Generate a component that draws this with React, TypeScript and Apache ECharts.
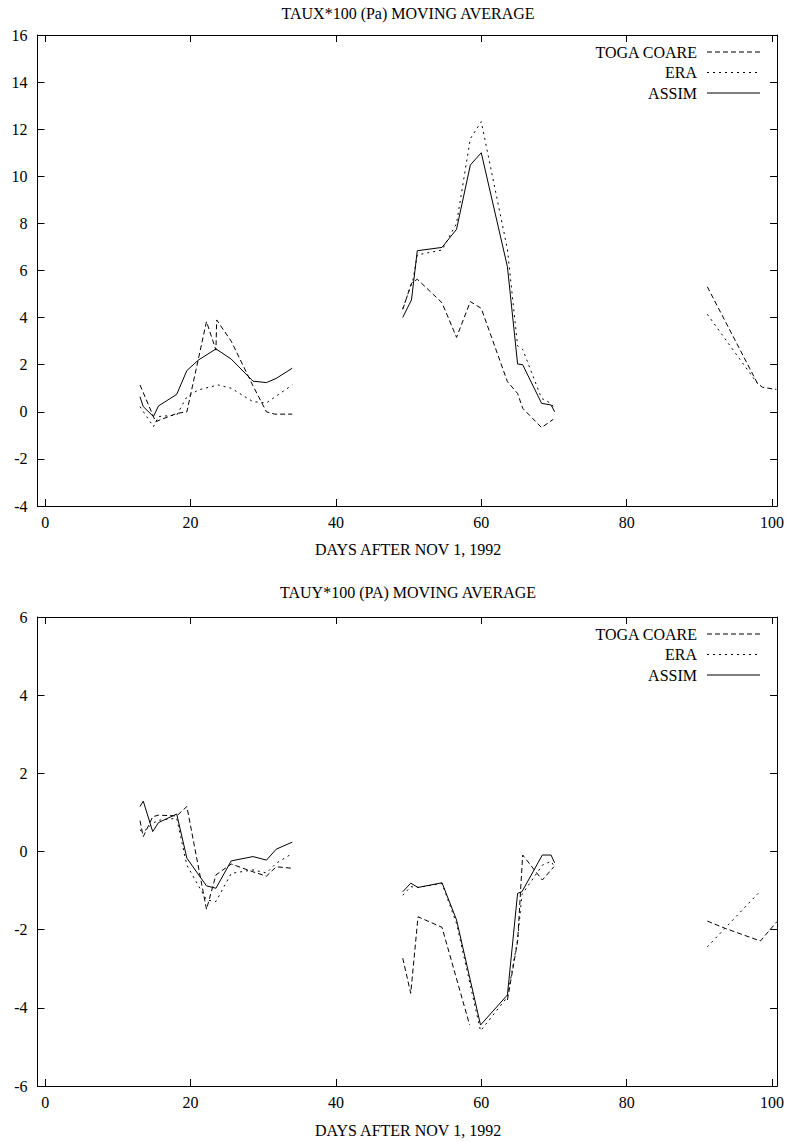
import React, { useEffect, useRef } from "react";
import * as echarts from "echarts";

// ---- data: [day, value]; null marks a gap in the record ----
const xTicks = [0, 20, 40, 60, 80, 100];
const yTicksTaux = { min: -4, max: 16, step: 2 };
const yTicksTauy = { min: -6, max: 6, step: 2 };

const tauxToga: [number, number | null][] = [
  [13.05, 1.14], [15.2, -0.42], [18.1, -0.07], [19.5, 0.0], [22.2, 3.83], [23.5, 2.62], [23.6, 3.9],
  [25.6, 3.0], [28.6, 1.1], [30.45, 0.0], [31.6, -0.1], [34, -0.1],
  [41, null],
  [49.2, 4.35], [50.4, 5.46], [51.2, 5.63], [54.6, 4.63], [56.6, 3.16], [58.5, 4.68], [60.0, 4.39],
  [63.6, 1.28], [65.0, 0.78], [65.7, 0.15], [68.3, -0.67], [69.9, -0.32],
  [80, null],
  [91.1, 5.31], [98.0, 1.21], [98.7, 1.04], [100.6, 0.95],
];
const tauxEra: [number, number | null][] = [
  [13.05, 0.22], [14.9, -0.63], [15.6, -0.2], [18.1, -0.14], [19.5, 0.64], [21.1, 0.93], [23.8, 1.14],
  [25.6, 1.0], [28.6, 0.43], [30.45, 0.38], [34, 1.14],
  [41, null],
  [49.2, 4.38], [50.6, 5.6], [51.2, 6.66], [54.6, 6.87], [56.6, 8.0], [58.5, 11.6], [60.0, 12.32],
  [63.6, 6.9], [65.0, 2.8], [65.7, 2.65], [68.3, 0.57], [69.6, 0.36], [70.1, 0.1],
  [80, null],
  [91.1, 4.14], [98.0, 1.2],
];
const tauxAssim: [number, number | null][] = [
  [13.05, 0.64], [13.5, 0.22], [14.9, -0.2], [15.6, 0.25], [18.1, 0.74], [19.5, 1.75], [21.1, 2.2],
  [23.5, 2.67], [25.6, 2.24], [28.6, 1.3], [30.45, 1.24], [31.8, 1.42], [34, 1.85],
  [41, null],
  [49.2, 4.01], [50.4, 4.75], [51.2, 6.84], [54.6, 6.98], [56.6, 7.75], [58.5, 10.48], [60.0, 11.0],
  [63.6, 6.16], [65.0, 2.03], [65.7, 2.0], [68.3, 0.36], [69.6, 0.29], [70.1, 0.0],
];

const tauyToga: [number, number | null][] = [
  [13.05, 0.79], [13.5, 0.38], [14.8, 0.89], [15.6, 0.93], [18.1, 0.91], [19.5, 1.15], [22.2, -1.48],
  [23.5, -0.6], [25.6, -0.32], [28.6, -0.52], [30.45, -0.63], [31.8, -0.39], [34, -0.43],
  [41, null],
  [49.2, -2.73], [50.3, -3.63], [51.3, -1.67], [54.6, -1.94], [58.4, -4.44],
  [60, null],
  [63.6, -3.8], [65.0, -2.3], [65.7, -0.09], [68.4, -0.73], [70.0, -0.39],
  [80, null],
  [91.1, -1.78], [93.6, -1.97], [98.4, -2.29], [100.7, -1.79],
];
const tauyEra: [number, number | null][] = [
  [13.05, 0.55], [13.5, 0.5], [14.8, 0.72], [15.6, 0.8], [18.1, 0.85], [19.5, -0.35], [22.2, -1.24],
  [23.5, -1.28], [25.6, -0.56], [28.6, -0.47], [30.45, -0.55], [31.8, -0.3], [34, -0.05],
  [41, null],
  [49.2, -1.12], [50.3, -0.9], [51.3, -0.92], [54.6, -0.82], [56.6, -1.84], [59.9, -4.59],
  [63.6, -3.72], [65.0, -2.26], [65.6, -1.1], [68.4, -0.35], [69.6, -0.25], [70.1, -0.4],
  [80, null],
  [91.1, -2.44], [98.1, -1.07],
];
const tauyAssim: [number, number | null][] = [
  [13.05, 1.15], [13.5, 1.29], [14.8, 0.51], [15.6, 0.74], [18.1, 0.96], [19.5, -0.17], [22.2, -0.88],
  [23.5, -0.94], [25.6, -0.24], [28.6, -0.13], [30.45, -0.22], [31.8, 0.06], [34, 0.24],
  [41, null],
  [49.2, -1.03], [50.3, -0.81], [51.3, -0.92], [54.6, -0.8], [56.6, -1.75], [59.9, -4.44],
  [63.6, -3.67], [65.0, -1.07], [65.6, -1.03], [68.4, -0.09], [69.6, -0.09], [70.1, -0.29],
];

const legendNames = ["TOGA COARE", "ERA", "ASSIM"];
const titles = ["TAUX*100 (Pa) MOVING AVERAGE", "TAUY*100 (PA) MOVING AVERAGE"];
const xName = "DAYS AFTER NOV 1, 1992";

const FONT = "Liberation Serif";
const DASH = [5, 3];
const DOT = [2, 4];
const styles: any[] = [DASH, DOT, "solid"];

function toData(p: [number, number | null][]) {
  return p.map(([x, y]) => (y === null ? [x, "-"] : [x, y]));
}

export default function App() {
  const ref = useRef<HTMLDivElement>(null);
  useEffect(() => {
    document.body.style.margin = "0";
    const chart = echarts.init(ref.current!, null, { renderer: "svg" });
    const W = 787;
    const grids = [
      { left: 37.5, right: W - 778.5, top: 35, height: 471 },
      { left: 37.5, right: W - 778.5, top: 617, height: 469 },
    ];
    const lineCol = "#000";
    const xMin = -1.05;
    const xMax = 100.7;
    const mkX = (gi: number, pos: string, labels: boolean) => ({
      type: "value",
      gridIndex: gi,
      position: pos,
      min: xMin,
      max: xMax,
      axisLine: { show: true, onZero: false, lineStyle: { color: lineCol, width: 1 } },
      axisTick: { show: true, inside: true, length: 7, customValues: xTicks, lineStyle: { color: lineCol } },
      axisLabel: {
        show: labels,
        customValues: xTicks,
        color: "#000",
        fontFamily: FONT,
        fontSize: 16,
        margin: 8,
      },
      splitLine: { show: false },
    });
    const mkY = (gi: number, pos: string, labels: boolean, t: any) => ({
      type: "value",
      gridIndex: gi,
      position: pos,
      min: t.min,
      max: t.max,
      interval: t.step,
      axisLine: { show: true, onZero: false, lineStyle: { color: lineCol, width: 1 } },
      axisTick: { show: true, inside: true, length: 7, lineStyle: { color: lineCol } },
      axisLabel: { show: labels, color: "#000", fontFamily: FONT, fontSize: 16, margin: 10 },
      splitLine: { show: false },
    });
    const groups = [
      [tauxToga, tauxEra, tauxAssim],
      [tauyToga, tauyEra, tauyAssim],
    ];
    const series: any[] = [];
    groups.forEach((g, gi) => {
      g.forEach((d, si) => {
        series.push({
          type: "line",
          name: legendNames[si],
          xAxisIndex: gi * 2,
          yAxisIndex: gi * 2,
          data: toData(d),
          showSymbol: false,
          symbol: "none",
          connectNulls: false,
          lineStyle: { color: "#000", width: 1, type: styles[si] },
          silent: true,
        });
      });
    });
    const graphics: any[] = [];
    const legendTop = [52, 634];
    [0, 1].forEach((gi) => {
      legendNames.forEach((n, i) => {
        const y = legendTop[gi] + i * 20.5;
        graphics.push({
          type: "text",
          x: 697,
          y,
          style: { text: n, fontFamily: FONT, fontSize: 16, fill: "#000", textAlign: "right", textVerticalAlign: "middle" },
        });
        graphics.push({
          type: "line",
          shape: { x1: 707, y1: y, x2: 760, y2: y },
          style: { stroke: "#000", lineWidth: 1, lineDash: i === 2 ? null : styles[i] },
        });
      });
    });
    const titleY = [13, 592];
    const xNameY = [549, 1130];
    [0, 1].forEach((gi) => {
      graphics.push({
        type: "text",
        x: 408,
        y: titleY[gi],
        style: { text: titles[gi], fontFamily: FONT, fontSize: 16, fill: "#000", textAlign: "center", textVerticalAlign: "middle" },
      });
      graphics.push({
        type: "text",
        x: 408,
        y: xNameY[gi],
        style: { text: xName, fontFamily: FONT, fontSize: 16, fill: "#000", textAlign: "center", textVerticalAlign: "middle" },
      });
    });
    chart.setOption({
      animation: false,
      backgroundColor: "#fff",
      grid: grids,
      xAxis: [mkX(0, "bottom", true), mkX(0, "top", false), mkX(1, "bottom", true), mkX(1, "top", false)],
      yAxis: [
        mkY(0, "left", true, yTicksTaux),
        mkY(0, "right", false, yTicksTaux),
        mkY(1, "left", true, yTicksTauy),
        mkY(1, "right", false, yTicksTauy),
      ],
      series,
      graphic: graphics,
    });
    return () => chart.dispose();
  }, []);
  return <div ref={ref} style={{ width: 787, height: 1142 }} />;
}
